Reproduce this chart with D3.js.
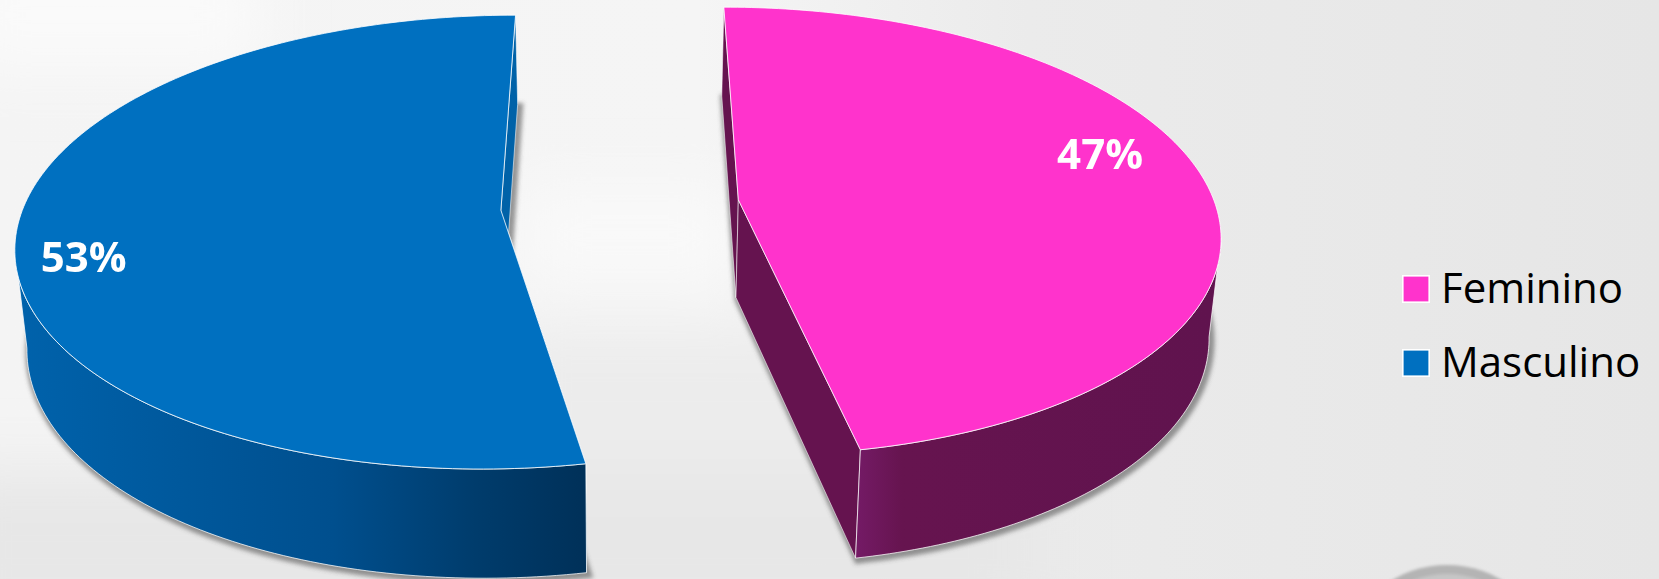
<!DOCTYPE html>
<html>
<head>
<meta charset="utf-8">
<script src="https://cdn.jsdelivr.net/npm/d3@7"></script>
<style>
  html, body { margin: 0; padding: 0; background: #e8e8e8; overflow: hidden; }
  text { font-family: "Open Sans", Lato, sans-serif; }
</style>
</head>
<body>
<div id="chart"></div>
<script>
// Values.
var categories = ["Feminino", "Masculino"];
var percents = [47, 53];
var percentLabels = ["47%", "53%"];

var WIDTH = 1659, HEIGHT = 579;
var RAD = Math.PI / 180;
var FILLS = ["#ff33cc", "#0070c0"];

// Camera of the 3d pie: vanishing x, plane height, radii, perspective, thickness.
var cam = { vx: 620, vy: 205, a: 477, b: 221, k: 0.14, kz: 0.1, depth: 98, taper: 0.02 };
var EXPLODE = 0.25;
var LABEL_RADIUS = [0.815, 0.865];
var LABEL_TURN = -9 * RAD;

var svg = d3.select("#chart").append("svg")
    .attr("width", WIDTH)
    .attr("height", HEIGHT)
    .style("display", "block");
var defs = svg.append("defs");

/**
  * Projects a point of the pie to the screen.
  * @param {float} wx Position across, 1 is a pie radius.
  * @param {float} wy Position towards the viewer, 1 is a pie radius.
  * @param {float} wz 0 on the top face, 1 on the bottom face.
  * @return {array} The screen x and y.
  */
function project(wx, wy, wz){
    var w = 1 - cam.k * wy;
    return [cam.vx + cam.a * wx * (1 - cam.taper * wz) / w,
            cam.vy + cam.b * wy / w + cam.depth * wz / (1 - cam.kz * wy)];
}

// Point of a slice at a given angle and radius.
function slicePoint(d, angle, r, wz){
    var mid = (d.startAngle + d.endAngle) / 2;
    return project(EXPLODE * Math.sin(mid) + r * Math.sin(angle),
                   -EXPLODE * Math.cos(mid) - r * Math.cos(angle), wz);
}

function arcAngles(d){
    var steps = 180;
    return d3.range(steps + 1).map(function(i){
        return d.startAngle + (d.endAngle - d.startAngle) * i / steps;
    });
}

var line = d3.line();
function closedPath(pts){ return line(pts) + "Z"; }

function face(d, wz){
    var pts = arcAngles(d).map(function(t){ return slicePoint(d, t, 1, wz); });
    pts.push(slicePoint(d, 0, 0, wz));
    return closedPath(pts);
}

function cutFace(d, angle){
    return closedPath([slicePoint(d, 0, 0, 0), slicePoint(d, angle, 1, 0),
                   slicePoint(d, angle, 1, 1), slicePoint(d, 0, 0, 1)]);
}

// Only the part of the rim that faces the viewer, from the widest point to the front.
function outerWall(d){
    var angles = arcAngles(d);
    var widest = d3.greatest(angles, function(t){
        return Math.abs(slicePoint(d, t, 1, 0)[0] - cam.vx);
    });
    var front = angles.filter(function(t){ return -Math.cos(t) >= -Math.cos(widest); });
    var top = front.map(function(t){ return slicePoint(d, t, 1, 0); });
    var bottom = front.map(function(t){ return slicePoint(d, t, 1, 1); }).reverse();
    return closedPath(top.concat(bottom));
}

// Washed out photo behind the chart.
function drawBackground(){
    var g = defs.append("linearGradient").attr("id", "bgGrad");
    g.append("stop").attr("offset", 0).attr("stop-color", "#f4f4f4");
    g.append("stop").attr("offset", 0.42).attr("stop-color", "#f5f5f5");
    g.append("stop").attr("offset", 0.62).attr("stop-color", "#ebebeb");
    g.append("stop").attr("offset", 1).attr("stop-color", "#e6e6e6");
    defs.append("filter").attr("id", "bgBlur")
        .attr("filterUnits", "userSpaceOnUse")
        .attr("x", -200).attr("y", -200).attr("width", WIDTH + 400).attr("height", HEIGHT + 400)
        .append("feGaussianBlur").attr("stdDeviation", 30);
    defs.append("filter").attr("id", "ringBlur")
        .append("feGaussianBlur").attr("stdDeviation", 1.5);

    svg.append("rect").attr("width", WIDTH).attr("height", HEIGHT).attr("fill", "url(#bgGrad)");
    var blobs = svg.append("g").attr("filter", "url(#bgBlur)");
    blobs.append("rect").attr("x", -60).attr("y", 470).attr("width", 1100).attr("height", 160).attr("fill", "#e7e7e7");
    blobs.append("rect").attr("x", 500).attr("y", 330).attr("width", 400).attr("height", 140).attr("fill", "#ececec");
    blobs.append("rect").attr("x", 520).attr("y", 190).attr("width", 220).attr("height", 90).attr("fill", "#f9f9f9");
    blobs.append("rect").attr("x", -40).attr("y", -40).attr("width", 300).attr("height", 110).attr("fill", "#fafafa");

    var ring = svg.append("g").attr("filter", "url(#ringBlur)");
    ring.append("ellipse").attr("cx", 1447).attr("cy", 642).attr("rx", 92).attr("ry", 77).attr("fill", "#b4b4b4");
    ring.append("ellipse").attr("cx", 1447).attr("cy", 648).attr("rx", 84).attr("ry", 74).attr("fill", "#c6c6c6");
}

// Soft shadow thrown by the bottom faces.
function drawShadows(slices){
    defs.append("filter").attr("id", "shadowBlur")
        .attr("x", "-10%").attr("y", "-10%").attr("width", "120%").attr("height", "120%")
        .append("feGaussianBlur").attr("stdDeviation", 2.2);
    svg.append("g").attr("filter", "url(#shadowBlur)")
        .selectAll("path").data(slices).join("path")
        .attr("d", function(d){ return face(d, 1); })
        .attr("transform", "translate(2,2)")
        .attr("fill", "#555")
        .attr("stroke", "#555")
        .attr("stroke-width", 7)
        .attr("opacity", 0.6);
}

function wallGradient(id, x0, x1, stops){
    var g = defs.append("linearGradient").attr("id", id)
        .attr("gradientUnits", "userSpaceOnUse")
        .attr("x1", x0).attr("x2", x1).attr("y1", 0).attr("y2", 0);
    stops.forEach(function(s){
        g.append("stop").attr("offset", s[0]).attr("stop-color", s[1]);
    });
}

function drawPie(slices){
    wallGradient("wall0", 860, 1210, [[0, "#731a64"], [0.12, "#66144f"], [1, "#60134e"]]);
    wallGradient("wall1", 20, 590, [[0, "#0062ab"], [0.55, "#004f8e"], [0.8, "#003c6c"], [1, "#003058"]]);
    var cutFills = ["#65134f", "#0062a8"];

    var groups = svg.selectAll("g.slice").data(slices).join("g").attr("class", "slice");
    groups.each(function(d, i){
        var g = d3.select(this);
        [d.startAngle, d.endAngle].forEach(function(t){
            g.append("path")
                .attr("d", cutFace(d, t))
                .attr("fill", cutFills[i])
                .attr("stroke", "#fff").attr("stroke-opacity", 0.7).attr("stroke-width", 0.8);
        });
    });
    groups.append("path")
        .attr("d", outerWall)
        .attr("fill", function(d, i){ return "url(#wall" + i + ")"; })
        .attr("stroke", "#fff").attr("stroke-opacity", 0.75).attr("stroke-width", 1);
    groups.append("path")
        .attr("d", function(d){ return face(d, 0); })
        .attr("fill", function(d, i){ return FILLS[i]; })
        .attr("stroke", "#fff").attr("stroke-opacity", 0.8).attr("stroke-width", 1);
    groups.append("text")
        .attr("transform", function(d, i){
            var mid = (d.startAngle + d.endAngle) / 2 + LABEL_TURN;
            return "translate(" + slicePoint(d, mid, LABEL_RADIUS[i], 0) + ")";
        })
        .attr("text-anchor", "middle")
        .attr("dy", "0.3em")
        .attr("fill", "#fff")
        .attr("font-size", 42)
        .attr("font-weight", 700)
        .text(function(d, i){ return percentLabels[i]; });
}

function drawLegend(){
    var y = d3.scalePoint().domain(categories).range([289, 363]);
    var rows = svg.selectAll("g.legend").data(categories).join("g")
        .attr("class", "legend")
        .attr("transform", function(d){ return "translate(1402," + y(d) + ")"; });
    rows.append("rect")
        .attr("x", 0.8).attr("y", -13.2).attr("width", 26.4).attr("height", 26.4)
        .attr("fill", function(d, i){ return FILLS[i]; })
        .attr("stroke", "#fff").attr("stroke-width", 1.6);
    rows.append("text")
        .attr("x", 39).attr("y", 14)
        .attr("font-size", 42)
        .attr("fill", "#000")
        .text(function(d){ return d; });
}

var pie = d3.pie().sort(null);
var slices = pie(percents);

drawBackground();
drawShadows(slices);
drawPie(slices);
drawLegend();
</script>
</body>
</html>
